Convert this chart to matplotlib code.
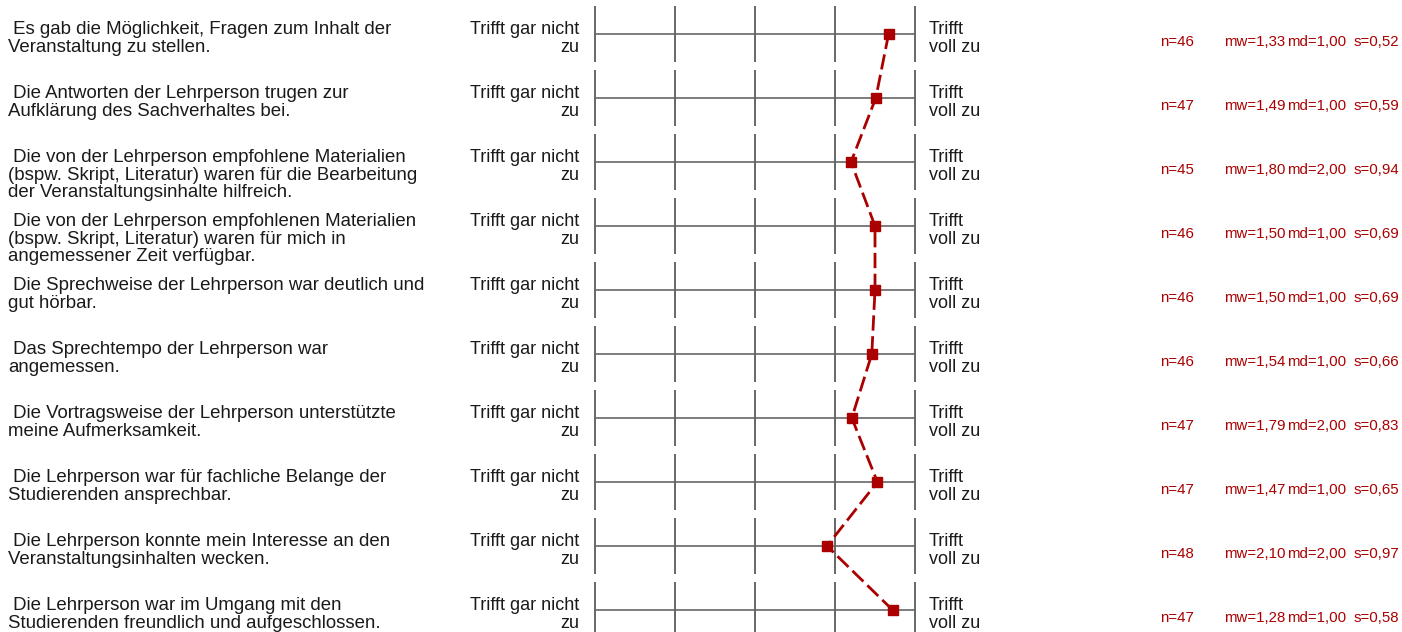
import matplotlib.pyplot as plt
from matplotlib.transforms import blended_transform_factory

# ---- data ----
questions = [
    " Es gab die Möglichkeit, Fragen zum Inhalt der\nVeranstaltung zu stellen.",
    " Die Antworten der Lehrperson trugen zur\nAufklärung des Sachverhaltes bei.",
    " Die von der Lehrperson empfohlene Materialien\n(bspw. Skript, Literatur) waren für die Bearbeitung\nder Veranstaltungsinhalte hilfreich.",
    " Die von der Lehrperson empfohlenen Materialien\n(bspw. Skript, Literatur) waren für mich in\nangemessener Zeit verfügbar.",
    " Die Sprechweise der Lehrperson war deutlich und\ngut hörbar.",
    " Das Sprechtempo der Lehrperson war\nangemessen.",
    " Die Vortragsweise der Lehrperson unterstützte\nmeine Aufmerksamkeit.",
    " Die Lehrperson war für fachliche Belange der\nStudierenden ansprechbar.",
    " Die Lehrperson konnte mein Interesse an den\nVeranstaltungsinhalten wecken.",
    " Die Lehrperson war im Umgang mit den\nStudierenden freundlich und aufgeschlossen.",
]
n_vals = [46, 47, 45, 46, 46, 46, 47, 47, 48, 47]
mw = [1.33, 1.49, 1.80, 1.50, 1.50, 1.54, 1.79, 1.47, 2.10, 1.28]
md = [1.00, 1.00, 2.00, 1.00, 1.00, 1.00, 2.00, 1.00, 2.00, 1.00]
sd = [0.52, 0.59, 0.94, 0.69, 0.69, 0.66, 0.83, 0.65, 0.97, 0.58]
left_label = "Trifft gar nicht\nzu"
right_label = "Trifft\nvoll zu"
scale = [1, 2, 3, 4, 5]

plt.rcParams['font.family'] = ['Liberation Sans', 'DejaVu Sans']

W, H = 1402, 632
fig = plt.figure(figsize=(W / 100, H / 100), dpi=100)
ax = fig.add_axes([595 / W, 0, 320 / W, 1])
ax.set_xlim(5, 1)
ax.set_ylim((H - 34) / 64, -34 / 64)
ax.axis('off')

grey = '#666666'
red = '#aa0000'
txt = '#1a1a1a'
rows = list(range(len(questions)))

for i in rows:
    ax.vlines(scale, i - 28 / 64, i + 28 / 64, color=grey, lw=1.4, clip_on=False)
    ax.hlines(i, 1, 5, color=grey, lw=1.2)

ax.plot(mw, rows, color=red, lw=2.0, dashes=(5.5, 2), marker='s', ms=6.5,
        markerfacecolor=red, markeredgecolor=red, clip_on=False, zorder=5)

tr = blended_transform_factory(fig.transFigure, ax.transData)
for i in rows:
    yt = i - 13 / 64
    fig.text(8 / W, yt, questions[i], transform=tr, fontsize=13.4,
             ha='left', va='top', linespacing=1.05, color=txt)
    fig.text(579 / W, yt, left_label, transform=tr, fontsize=13,
             ha='right', va='top', linespacing=1.05, color=txt)
    fig.text(929 / W, yt, right_label, transform=tr, fontsize=13,
             ha='left', va='top', linespacing=1.05, color=txt)
    y = i + 12 / 64
    fig.text(1160 / W, y, f"n={n_vals[i]}", transform=tr, fontsize=10.8,
             ha='left', va='baseline', color=red)
    fig.text(1224 / W, y, f"mw={mw[i]:.2f}".replace('.', ','), transform=tr,
             fontsize=10.8, ha='left', va='baseline', color=red)
    fig.text(1287 / W, y, f"md={md[i]:.2f}".replace('.', ','), transform=tr,
             fontsize=10.8, ha='left', va='baseline', color=red)
    fig.text(1399 / W, y, f"s={sd[i]:.2f}".replace('.', ','), transform=tr,
             fontsize=10.8, ha='right', va='baseline', color=red)

fig.savefig("out.png", dpi=100)
